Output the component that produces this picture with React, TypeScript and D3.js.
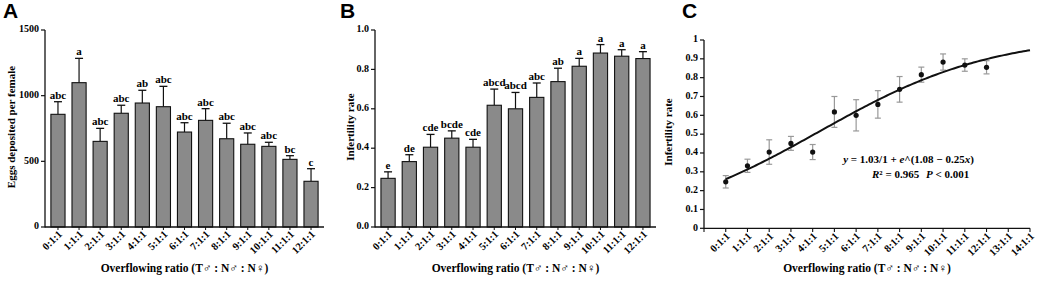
import React from "react";
import * as d3 from "d3";

const categoriesAB = ["0:1:1","1:1:1","2:1:1","3:1:1","4:1:1","5:1:1","6:1:1","7:1:1","8:1:1","9:1:1","10:1:1","11:1:1","12:1:1"];
const eggsMean = [858, 1099, 652, 866, 944, 916, 723, 812, 672, 630, 614, 515, 348];
const eggsErr = [96, 185, 99, 61, 97, 155, 71, 89, 118, 86, 31, 28, 96];
const eggsLetters = ["abc","a","abc","abc","ab","abc","abc","abc","abc","abc","abc","bc","c"];
const infMean = [0.247, 0.332, 0.405, 0.451, 0.405, 0.618, 0.600, 0.658, 0.738, 0.816, 0.883, 0.867, 0.855];
const infErr = [0.033, 0.035, 0.065, 0.037, 0.040, 0.082, 0.083, 0.073, 0.068, 0.040, 0.043, 0.033, 0.035];
const infLetters = ["e","de","cde","bcde","cde","abcd","abcd","abc","ab","a","a","a","a"];
const eggsTicks = [0, 500, 1000, 1500];
const infTicksB = [0, 0.2, 0.4, 0.6, 0.8, 1.0];
const infTicksC = [0, 0.1, 0.2, 0.3, 0.4, 0.5, 0.6, 0.7, 0.8, 0.9, 1];
const ratiosC = ["0:1:1","1:1:1","2:1:1","3:1:1","4:1:1","5:1:1","6:1:1","7:1:1","8:1:1","9:1:1","10:1:1","11:1:1","12:1:1","13:1:1","14:1:1"];
const fitA = 1.03, fitB = 1.08, fitK = 0.25;

const SERIF = "'Liberation Serif', 'Times New Roman', serif";
const SANS = "'Liberation Sans', Arial, sans-serif";
const XLABEL = "Overflowing ratio (T\u2642 : N\u2642 :  N\u2640)";

function BarPanel({ x0, x1, yMax, ticks, fmt, means, errs, letters, yLabel, yLabelX, letter, letterX }: any) {
  const y = d3.scaleLinear().domain([0, yMax]).range([227, 30]);
  const x = d3.scaleBand().domain(categoriesAB).range([x0, x1]).paddingInner(0.33).paddingOuter(0.28);
  const bw = x.bandwidth();
  return (
    <g>
      <text x={letterX} y={18} fontFamily={SANS} fontWeight="bold" fontSize={21}>{letter}</text>
      {means.map((m: number, i: number) => {
        const cx = x(categoriesAB[i])! + bw / 2;
        const top = y(m + errs[i]);
        return (
          <g key={i}>
            <line x1={cx} x2={cx} y1={y(m)} y2={top} stroke="#111" strokeWidth={1.2} />
            <line x1={cx - 4} x2={cx + 4} y1={top} y2={top} stroke="#111" strokeWidth={1.3} />
            <rect x={x(categoriesAB[i])} y={y(m)} width={bw} height={y(0) - y(m)} fill="#8a8a8a" stroke="#111" strokeWidth={1.1} />
            <text x={cx} y={top - 3} textAnchor="middle" fontFamily={SERIF} fontWeight="bold" fontSize={11}>{letters[i]}</text>
            <line x1={cx} x2={cx} y1={227} y2={230} stroke="#111" strokeWidth={1} />
            <text transform={`translate(${cx + 3},${233}) rotate(-45)`} textAnchor="end" dominantBaseline="middle" fontFamily={SERIF} fontWeight="bold" fontSize={10.5}>{categoriesAB[i]}</text>
          </g>
        );
      })}
      <line x1={x0} x2={x0} y1={y(yMax)} y2={227.5} stroke="#111" strokeWidth={1.3} />
      <line x1={x0} x2={x1} y1={227} y2={227} stroke="#111" strokeWidth={1.3} />
      {ticks.map((t: number, i: number) => (
        <g key={i}>
          <line x1={x0 - 4} x2={x0} y1={y(t)} y2={y(t)} stroke="#111" strokeWidth={1.2} />
          <text x={x0 - 6} y={y(t)} textAnchor="end" dominantBaseline="middle" fontFamily={SERIF} fontWeight="bold" fontSize={10}>{fmt(t)}</text>
        </g>
      ))}
      <text transform={`translate(${yLabelX},${127}) rotate(-90)`} textAnchor="middle" fontFamily={SERIF} fontWeight="bold" fontSize={11}>{yLabel}</text>
      <text x={(x0 + x1) / 2} y={272} textAnchor="middle" fontFamily={SERIF} fontWeight="bold" fontSize={11.5}>{XLABEL}</text>
    </g>
  );
}

function CurvePanel() {
  const x = d3.scaleLinear().domain([-1, 14]).range([704, 1030]);
  const y = d3.scaleLinear().domain([0, 1]).range([228.3, 40]);
  const fit = (v: number) => fitA / (1 + Math.exp(fitB - fitK * v));
  const xs = d3.range(0, 14.001, 0.1);
  const line = d3.line<number>().x((v) => x(v)).y((v) => y(fit(v))).curve(d3.curveLinear);
  const ticksX = d3.range(-1, 15);
  return (
    <g>
      <text x={682} y={18} fontFamily={SANS} fontWeight="bold" fontSize={21}>C</text>
      <line x1={704} x2={704} y1={40} y2={228.8} stroke="#111" strokeWidth={1.3} />
      <line x1={704} x2={1030} y1={228.3} y2={228.3} stroke="#111" strokeWidth={1.3} />
      {infTicksC.map((t, i) => (
        <g key={i}>
          <line x1={700} x2={704} y1={y(t)} y2={y(t)} stroke="#111" strokeWidth={1.2} />
          <text x={698} y={y(t)} textAnchor="end" dominantBaseline="middle" fontFamily={SERIF} fontWeight="bold" fontSize={10}>{String(t)}</text>
        </g>
      ))}
      {ticksX.map((t) => (
        <line key={t} x1={x(t)} x2={x(t)} y1={228.3} y2={232} stroke="#111" strokeWidth={1.1} />
      ))}
      {ratiosC.map((r, i) => (
        <text key={r} transform={`translate(${x(i) + 3},${235}) rotate(-45)`} textAnchor="end" dominantBaseline="middle" fontFamily={SERIF} fontWeight="bold" fontSize={10.5}>{r}</text>
      ))}
      {infMean.map((m, i) => (
        <g key={i}>
          <line x1={x(i)} x2={x(i)} y1={y(m - infErr[i])} y2={y(m + infErr[i])} stroke="#999" strokeWidth={1.2} />
          <line x1={x(i) - 3} x2={x(i) + 3} y1={y(m - infErr[i])} y2={y(m - infErr[i])} stroke="#999" strokeWidth={1.2} />
          <line x1={x(i) - 3} x2={x(i) + 3} y1={y(m + infErr[i])} y2={y(m + infErr[i])} stroke="#999" strokeWidth={1.2} />
        </g>
      ))}
      <path d={line(xs) || ""} fill="none" stroke="#111" strokeWidth={2} />
      {infMean.map((m, i) => (
        <circle key={i} cx={x(i)} cy={y(m)} r={2.6} fill="#111" />
      ))}
      <text x={908.5} y={163} textAnchor="middle" fontFamily={SERIF} fontWeight="bold" fontSize={11}>
        <tspan fontStyle="italic">y</tspan> = 1.03/1 + <tspan fontStyle="italic">e</tspan>^(1.08 − 0.25<tspan fontStyle="italic">x</tspan>)
      </text>
      <text x={872} y={177.5} fontFamily={SERIF} fontWeight="bold" fontSize={11}>
        <tspan fontStyle="italic">R</tspan>² = 0.965
      </text>
      <text x={926} y={177.5} fontFamily={SERIF} fontWeight="bold" fontSize={11}>
        <tspan fontStyle="italic">P</tspan> &lt; 0.001
      </text>
      <text transform={`translate(${672},${132}) rotate(-90)`} textAnchor="middle" fontFamily={SERIF} fontWeight="bold" fontSize={11}>Infertility rate</text>
      <text x={867} y={272} textAnchor="middle" fontFamily={SERIF} fontWeight="bold" fontSize={11.5}>{XLABEL}</text>
    </g>
  );
}

export default function App() {
  return (
    <svg width={1038} height={283} style={{ position: "absolute", left: 0, top: 0, background: "#fff" }}>
      <rect x={0} y={0} width={1038} height={283} fill="#fff" />
      <BarPanel x0={45} x1={324} yMax={1500} ticks={eggsTicks} fmt={(t: number) => String(t)} means={eggsMean} errs={eggsErr} letters={eggsLetters} yLabel="Eggs deposited per female" yLabelX={15} letter="A" letterX={3} />
      <BarPanel x0={375} x1={656} yMax={1.0} ticks={infTicksB} fmt={(t: number) => t.toFixed(1)} means={infMean} errs={infErr} letters={infLetters} yLabel="Infertility rate" yLabelX={354} letter="B" letterX={340} />
      <CurvePanel />
    </svg>
  );
}
